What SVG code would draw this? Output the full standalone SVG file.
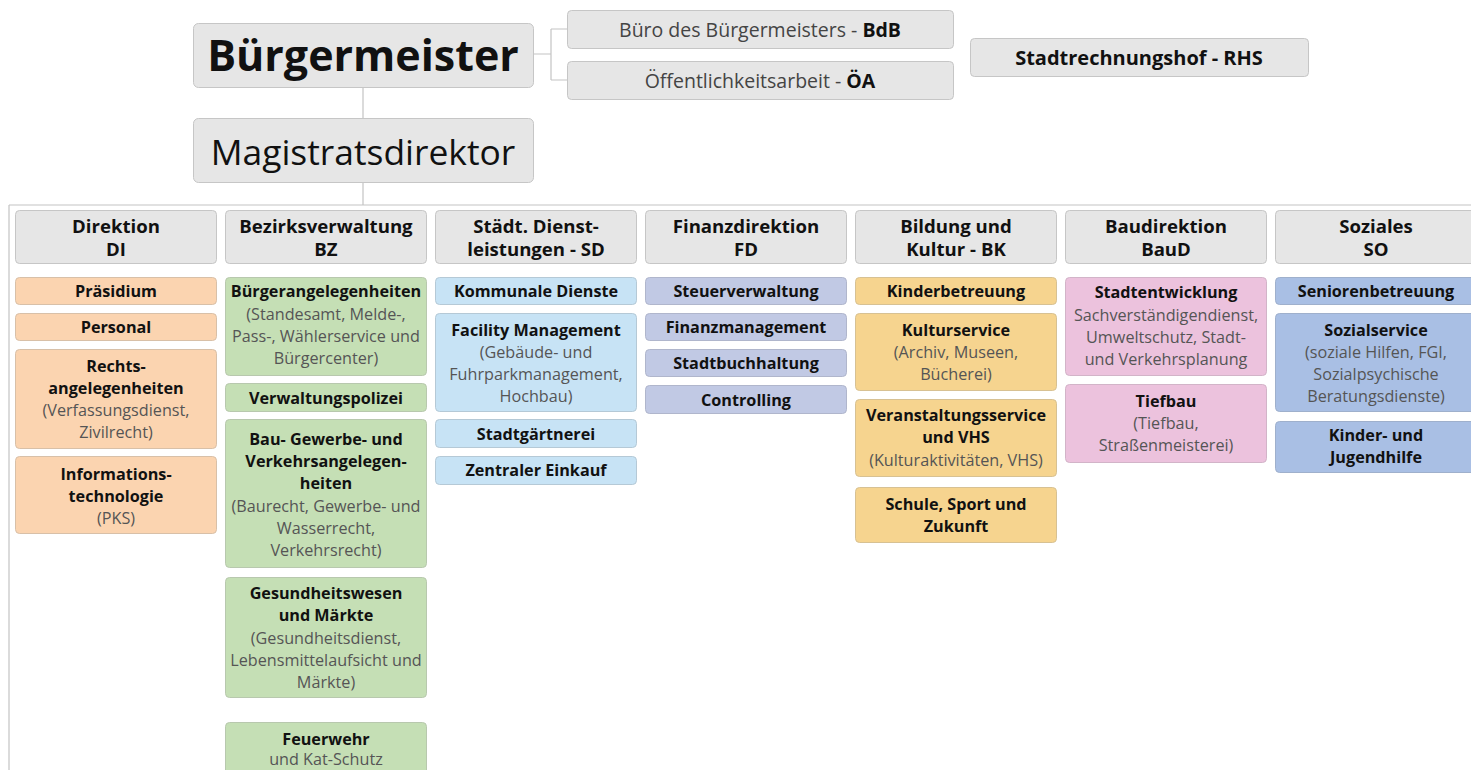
<svg xmlns="http://www.w3.org/2000/svg" width="1471" height="770" viewBox="0 0 1471 770">
<style>
text{font-family:"Open Sans","Noto Sans","Liberation Sans",sans-serif;text-anchor:middle;fill:#111}
.b{font-weight:bold}
.s{font-size:16.2px}
.sub{fill:#555;font-weight:normal}
.h{font-size:18.6px;font-weight:bold}
.top{font-size:19.5px}
.gray{fill:#e6e6e6;stroke:#c6c6c6;stroke-width:1}
.di{fill:#fbd4b0;stroke:#d8c0a8}
.bz{fill:#c5dfb5;stroke:#b8c8ae}
.sd{fill:#c7e3f5;stroke:#b5c9d6}
.fd{fill:#c1c9e4;stroke:#b0b6cc}
.bk{fill:#f6d48f;stroke:#d7c193}
.bd{fill:#ecc2dd;stroke:#d2b4c8}
.so{fill:#a9bfe4;stroke:#9fb0cc}
.line{stroke:#c4c4c4;stroke-width:1.2;fill:none}
</style>
<g id="connectors">
<path class="line" d="M363,87 V118 M363,182 V205 M9,205 H1471 M9,205 V770 M533,54 H551 M551,29 V80 M551,29 H567 M551,80 H567"/>
</g>
<g id="buergermeister"><rect class="gray" x="193.5" y="23.5" width="340" height="64" rx="5"/><text x="363" y="71" class="b" style="font-size:43px">Bürgermeister</text></g>
<g id="magistratsdirektor"><rect class="gray" x="193.5" y="118.5" width="340" height="64" rx="5"/><text x="363" y="165" style="font-size:35.4px">Magistratsdirektor</text></g>
<g id="bdb"><rect class="gray" x="567.5" y="10.5" width="386" height="38" rx="4"/><text x="760" y="37" class="top"><tspan fill="#444">Büro des Bürgermeisters - </tspan><tspan class="b">BdB</tspan></text></g>
<g id="oea"><rect class="gray" x="567.5" y="61.5" width="386" height="38" rx="4"/><text x="760" y="88" class="top"><tspan fill="#444">Öffentlichkeitsarbeit - </tspan><tspan class="b">ÖA</tspan></text></g>
<g id="rhs"><rect class="gray" x="970.5" y="38.5" width="338" height="38" rx="4"/><text x="1139" y="65" class="b" style="font-size:20px">Stadtrechnungshof - RHS</text></g>

<g id="h-di"><rect class="gray" x="15.5" y="210.5" width="201" height="53" rx="4"/><text x="116" y="233" class="h">Direktion</text><text x="116" y="256" class="h">DI</text></g>
<g id="h-bz"><rect class="gray" x="225.5" y="210.5" width="201" height="53" rx="4"/><text x="326" y="233" class="h">Bezirksverwaltung</text><text x="326" y="256" class="h">BZ</text></g>
<g id="h-sd"><rect class="gray" x="435.5" y="210.5" width="201" height="53" rx="4"/><text x="536" y="233" class="h">Städt. Dienst-</text><text x="536" y="256" class="h">leistungen - SD</text></g>
<g id="h-fd"><rect class="gray" x="645.5" y="210.5" width="201" height="53" rx="4"/><text x="746" y="233" class="h">Finanzdirektion</text><text x="746" y="256" class="h">FD</text></g>
<g id="h-bk"><rect class="gray" x="855.5" y="210.5" width="201" height="53" rx="4"/><text x="956" y="233" class="h">Bildung und</text><text x="956" y="256" class="h">Kultur - BK</text></g>
<g id="h-baud"><rect class="gray" x="1065.5" y="210.5" width="201" height="53" rx="4"/><text x="1166" y="233" class="h">Baudirektion</text><text x="1166" y="256" class="h">BauD</text></g>
<g id="h-so"><rect class="gray" x="1275.5" y="210.5" width="201" height="53" rx="4"/><text x="1376" y="233" class="h">Soziales</text><text x="1376" y="256" class="h">SO</text></g>

<g id="di-1"><rect class="di" x="15.5" y="277.5" width="201" height="27" rx="4"/><text x="116" y="297" class="s b">Präsidium</text></g>
<g id="di-2"><rect class="di" x="15.5" y="313.5" width="201" height="27" rx="4"/><text x="116" y="333" class="s b">Personal</text></g>
<g id="di-3"><rect class="di" x="15.5" y="349.5" width="201" height="99" rx="4"/><text x="116" y="372" class="s b">Rechts-</text><text x="116" y="394" class="s b">angelegenheiten</text><text x="116" y="416" class="s sub">(Verfassungsdienst,</text><text x="116" y="438" class="s sub">Zivilrecht)</text></g>
<g id="di-4"><rect class="di" x="15.5" y="456.5" width="201" height="77" rx="4"/><text x="116" y="480" class="s b">Informations-</text><text x="116" y="502" class="s b">technologie</text><text x="116" y="524" class="s sub">(PKS)</text></g>

<g id="bz-1"><rect class="bz" x="225.5" y="277.5" width="201" height="98" rx="4"/><text x="326" y="297" class="s b">Bürgerangelegenheiten</text><text x="326" y="320" class="s sub">(Standesamt, Melde-,</text><text x="326" y="342" class="s sub">Pass-, Wählerservice und</text><text x="326" y="364" class="s sub">Bürgercenter)</text></g>
<g id="bz-2"><rect class="bz" x="225.5" y="383.5" width="201" height="28" rx="4"/><text x="326" y="404" class="s b">Verwaltungspolizei</text></g>
<g id="bz-3"><rect class="bz" x="225.5" y="419.5" width="201" height="148" rx="4"/><text x="326" y="445" class="s b">Bau- Gewerbe- und</text><text x="326" y="467" class="s b">Verkehrsangelegen-</text><text x="326" y="489" class="s b">heiten</text><text x="326" y="512" class="s sub">(Baurecht, Gewerbe- und</text><text x="326" y="534" class="s sub">Wasserrecht,</text><text x="326" y="556" class="s sub">Verkehrsrecht)</text></g>
<g id="bz-4"><rect class="bz" x="225.5" y="577.5" width="201" height="120" rx="4"/><text x="326" y="599" class="s b">Gesundheitswesen</text><text x="326" y="621" class="s b">und Märkte</text><text x="326" y="644" class="s sub">(Gesundheitsdienst,</text><text x="326" y="666" class="s sub">Lebensmittelaufsicht und</text><text x="326" y="688" class="s sub">Märkte)</text></g>
<g id="bz-5"><rect class="bz" x="225.5" y="722.5" width="201" height="60" rx="4"/><text x="326" y="745" class="s b">Feuerwehr</text><text x="326" y="765" class="s sub">und Kat-Schutz</text></g>

<g id="sd-1"><rect class="sd" x="435.5" y="277.5" width="201" height="27" rx="4"/><text x="536" y="297" class="s b">Kommunale Dienste</text></g>
<g id="sd-2"><rect class="sd" x="435.5" y="313.5" width="201" height="98" rx="4"/><text x="536" y="336" class="s b">Facility Management</text><text x="536" y="358" class="s sub">(Gebäude- und</text><text x="536" y="380" class="s sub">Fuhrparkmanagement,</text><text x="536" y="402" class="s sub">Hochbau)</text></g>
<g id="sd-3"><rect class="sd" x="435.5" y="419.5" width="201" height="28" rx="4"/><text x="536" y="440" class="s b">Stadtgärtnerei</text></g>
<g id="sd-4"><rect class="sd" x="435.5" y="456.5" width="201" height="28" rx="4"/><text x="536" y="476" class="s b">Zentraler Einkauf</text></g>

<g id="fd-1"><rect class="fd" x="645.5" y="277.5" width="201" height="27" rx="4"/><text x="746" y="297" class="s b">Steuerverwaltung</text></g>
<g id="fd-2"><rect class="fd" x="645.5" y="313.5" width="201" height="27" rx="4"/><text x="746" y="333" class="s b">Finanzmanagement</text></g>
<g id="fd-3"><rect class="fd" x="645.5" y="349.5" width="201" height="27" rx="4"/><text x="746" y="369" class="s b">Stadtbuchhaltung</text></g>
<g id="fd-4"><rect class="fd" x="645.5" y="385.5" width="201" height="28" rx="4"/><text x="746" y="406" class="s b">Controlling</text></g>

<g id="bk-1"><rect class="bk" x="855.5" y="277.5" width="201" height="27" rx="4"/><text x="956" y="297" class="s b">Kinderbetreuung</text></g>
<g id="bk-2"><rect class="bk" x="855.5" y="313.5" width="201" height="77" rx="4"/><text x="956" y="336" class="s b">Kulturservice</text><text x="956" y="358" class="s sub">(Archiv, Museen,</text><text x="956" y="380" class="s sub">Bücherei)</text></g>
<g id="bk-3"><rect class="bk" x="855.5" y="399.5" width="201" height="77" rx="4"/><text x="956" y="421" class="s b">Veranstaltungsservice</text><text x="956" y="443" class="s b">und VHS</text><text x="956" y="466" class="s sub">(Kulturaktivitäten, VHS)</text></g>
<g id="bk-4"><rect class="bk" x="855.5" y="487.5" width="201" height="55" rx="4"/><text x="956" y="510" class="s b">Schule, Sport und</text><text x="956" y="532" class="s b">Zukunft</text></g>

<g id="baud-1"><rect class="bd" x="1065.5" y="277.5" width="201" height="98" rx="4"/><text x="1166" y="298" class="s b">Stadtentwicklung</text><text x="1166" y="321" class="s sub">Sachverständigendienst,</text><text x="1166" y="343" class="s sub">Umweltschutz, Stadt-</text><text x="1166" y="365" class="s sub">und Verkehrsplanung</text></g>
<g id="baud-2"><rect class="bd" x="1065.5" y="384.5" width="201" height="78" rx="4"/><text x="1166" y="407" class="s b">Tiefbau</text><text x="1166" y="429" class="s sub">(Tiefbau,</text><text x="1166" y="451" class="s sub">Straßenmeisterei)</text></g>

<g id="so-1"><rect class="so" x="1275.5" y="277.5" width="201" height="27" rx="4"/><text x="1376" y="297" class="s b">Seniorenbetreuung</text></g>
<g id="so-2"><rect class="so" x="1275.5" y="313.5" width="201" height="98" rx="4"/><text x="1376" y="336" class="s b">Sozialservice</text><text x="1376" y="358" class="s sub">(soziale Hilfen, FGI,</text><text x="1376" y="380" class="s sub">Sozialpsychische</text><text x="1376" y="402" class="s sub">Beratungsdienste)</text></g>
<g id="so-3"><rect class="so" x="1275.5" y="421.5" width="201" height="51" rx="4"/><text x="1376" y="441" class="s b">Kinder- und</text><text x="1376" y="463" class="s b">Jugendhilfe</text></g>
</svg>
